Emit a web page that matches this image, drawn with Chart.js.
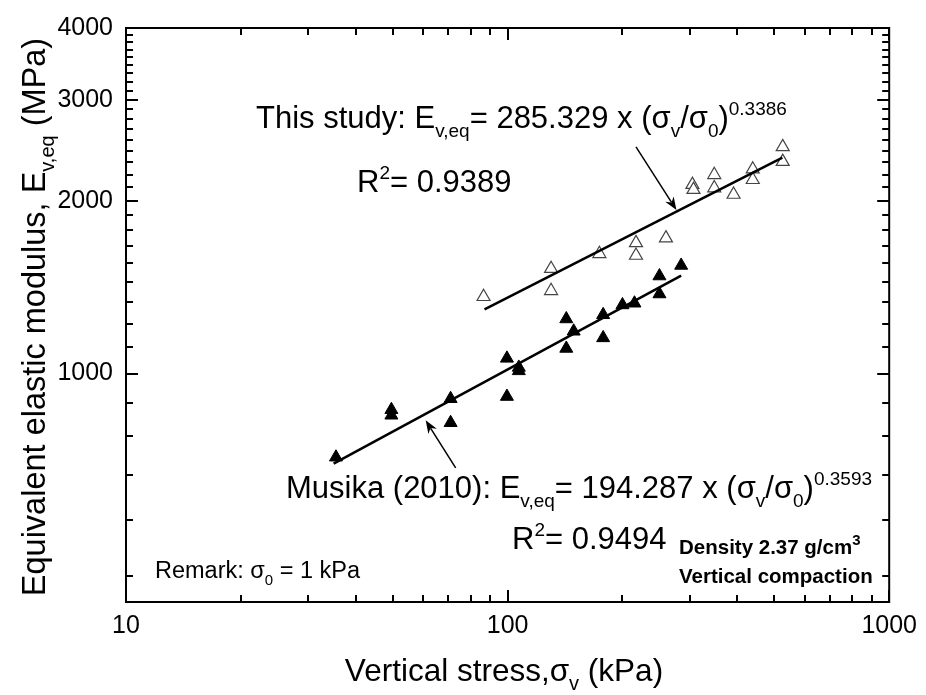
<!DOCTYPE html>
<html>
<head>
<meta charset="utf-8">
<script src="https://cdn.jsdelivr.net/npm/chart.js@4/dist/chart.umd.min.js"></script>
<style>
  body { margin: 0; background: #fff; }
</style>
</head>
<body>
<canvas id="chart" width="926" height="695"></canvas>
<script>
const thisStudyX = [86.5, 130, 130, 174, 217, 217, 260, 305, 307, 348, 348, 391, 439, 439, 526, 526];
const thisStudyY = [1361, 1523, 1394, 1617, 1689, 1606, 1722, 2134, 2092, 2220, 2105, 2051, 2270, 2176, 2483, 2340];
const musikaX = [35.5, 49.6, 49.6, 70.9, 70.9, 99.6, 99.6, 107, 107, 142.5, 149, 142.5, 178, 178, 200, 215, 250, 250, 285];
const musikaY = [715, 865, 846, 904, 821, 1063, 912, 1025, 1011, 1245, 1185, 1106, 1266, 1154, 1317, 1326, 1479, 1376, 1543];

// fitted power lines (end points)
const thisFitX = [87, 525];
const thisFitY = [1294, 2378];
const musikaFitX = [35, 285];
const musikaFitY = [697, 1481];

// arrows pointing at the fit lines: [from, to]
const thisArrow = [[217, 2483], [277, 1927]];
const musikaArrow = [[73.1, 685], [61, 829]];

const xMajorTicks = [10, 100, 1000];
const xMinorTicks = [20, 30, 40, 50, 60, 70, 80, 90, 200, 300, 400, 500, 600, 700, 800, 900];
const yMajorTicks = [1000, 2000, 3000, 4000];
const yMinorStep = 1000 / 9;

const FONT = '"Liberation Sans", Arial, Helvetica, sans-serif';

const toPoints = (xs, ys) => xs.map((x, i) => ({ x: x, y: ys[i] }));

function yMinorTicks() {
    const out = [];
    for (let v = 4000 - yMinorStep; v > 400; v -= yMinorStep) {
        if (!yMajorTicks.some(m => Math.abs(m - v) < 1)) out.push(v);
    }
    return out;
}

// draw text made of parts: {t, s} where s is 'sub' / 'sup' / undefined
function drawRich(ctx, parts, x, y, size, weight, align) {
    const small = (p) => Math.round(size * (p.k || 0.62));
    const measure = () => parts.reduce((w, p) => {
        ctx.font = `${weight} ${p.s ? small(p) : size}px ${FONT}`;
        return w + ctx.measureText(p.t).width;
    }, 0);
    let cx = x;
    if (align === 'center') cx = x - measure() / 2;
    parts.forEach(p => {
        ctx.font = `${weight} ${p.s ? small(p) : size}px ${FONT}`;
        let dy = 0;
        if (p.s === 'sub') dy = size * 0.28;
        if (p.s === 'sup') dy = -size * 0.42;
        ctx.fillText(p.t, cx, y + dy);
        cx += ctx.measureText(p.t).width;
    });
}

const decorations = {
    id: 'decorations',
    afterDraw(chart) {
        const { ctx, chartArea: a, scales: { x, y } } = chart;
        ctx.save();
        ctx.strokeStyle = '#000';
        ctx.fillStyle = '#000';
        ctx.lineCap = 'butt';

        // inward ticks on four sides
        ctx.lineWidth = 2;
        const seg = (x1, y1, x2, y2) => { ctx.beginPath(); ctx.moveTo(x1, y1); ctx.lineTo(x2, y2); ctx.stroke(); };
        xMajorTicks.concat(xMinorTicks).forEach(v => {
            const px = Math.round(x.getPixelForValue(v));
            const len = xMajorTicks.includes(v) ? 12 : 7;
            seg(px, a.bottom, px, a.bottom - len);
            seg(px, a.top, px, a.top + len);
        });
        yMajorTicks.concat(yMinorTicks()).forEach(v => {
            const py = Math.round(y.getPixelForValue(v));
            const len = yMajorTicks.includes(v) ? 12 : 7;
            seg(a.left, py, a.left + len, py);
            seg(a.right, py, a.right - len, py);
        });

        // frame
        ctx.lineWidth = 2;
        ctx.strokeRect(a.left, a.top, a.right - a.left, a.bottom - a.top);

        // arrows
        const arrow = (pts) => {
            const x1 = x.getPixelForValue(pts[0][0]), y1 = y.getPixelForValue(pts[0][1]);
            const x2 = x.getPixelForValue(pts[1][0]), y2 = y.getPixelForValue(pts[1][1]);
            const ang = Math.atan2(y2 - y1, x2 - x1);
            const hl = 13, hw = 5;
            ctx.lineWidth = 1.5;
            seg(x1, y1, x2 - Math.cos(ang) * hl * 0.7, y2 - Math.sin(ang) * hl * 0.7);
            ctx.beginPath();
            ctx.moveTo(x2, y2);
            ctx.lineTo(x2 - Math.cos(ang) * hl - Math.sin(ang) * hw, y2 - Math.sin(ang) * hl + Math.cos(ang) * hw);
            ctx.lineTo(x2 - Math.cos(ang) * hl * 0.7, y2 - Math.sin(ang) * hl * 0.7);
            ctx.lineTo(x2 - Math.cos(ang) * hl + Math.sin(ang) * hw, y2 - Math.sin(ang) * hl - Math.cos(ang) * hw);
            ctx.closePath();
            ctx.fill();
        };
        arrow(thisArrow);
        arrow(musikaArrow);

        // annotations
        ctx.textBaseline = 'alphabetic';
        ctx.textAlign = 'left';
        drawRich(ctx, [
            { t: 'This study: E' }, { t: 'v,eq', s: 'sub' }, { t: '= 285.329 x (σ' }, { t: 'v', s: 'sub' },
            { t: '/σ' }, { t: '0', s: 'sub' }, { t: ')' }, { t: '0.3386', s: 'sup' }
        ], 256, 128, 31, 'normal');
        drawRich(ctx, [{ t: 'R' }, { t: '2', s: 'sup' }, { t: '= 0.9389' }], 357, 192, 31, 'normal');
        drawRich(ctx, [
            { t: 'Musika (2010): E' }, { t: 'v,eq', s: 'sub' }, { t: '= 194.287 x (σ' }, { t: 'v', s: 'sub' },
            { t: '/σ' }, { t: '0', s: 'sub' }, { t: ')' }, { t: '0.3593', s: 'sup' }
        ], 286, 498, 31, 'normal');
        drawRich(ctx, [{ t: 'R' }, { t: '2', s: 'sup' }, { t: '= 0.9494' }], 512, 549, 31, 'normal');
        drawRich(ctx, [{ t: 'Density 2.37 g/cm' }, { t: '3', s: 'sup', k: 0.72 }], 679, 554, 20.5, 'bold');
        drawRich(ctx, [{ t: 'Vertical compaction' }], 679, 583, 20.5, 'bold');
        drawRich(ctx, [{ t: 'Remark: σ' }, { t: '0', s: 'sub' }, { t: ' = 1 kPa' }], 155, 578, 23.5, 'normal');

        // axis titles
        drawRich(ctx, [{ t: 'Vertical stress,σ' }, { t: 'v', s: 'sub' }, { t: ' (kPa)' }],
            504, 681, 31.5, 'normal', 'center');
        ctx.translate(45, (a.top + a.bottom) / 2 + 2);
        ctx.rotate(-Math.PI / 2);
        drawRich(ctx, [{ t: 'Equivalent elastic modulus, E' }, { t: 'v,eq', s: 'sub' }, { t: ' (MPa)' }],
            0, 0, 32.5, 'normal', 'center');
        ctx.restore();
    }
};

new Chart(document.getElementById('chart'), {
    type: 'scatter',
    data: {
        datasets: [
            {
                label: 'This study fit',
                data: toPoints(thisFitX, thisFitY),
                showLine: true,
                borderColor: '#000',
                borderWidth: 2.5,
                pointRadius: 0
            },
            {
                label: 'Musika fit',
                data: toPoints(musikaFitX, musikaFitY),
                showLine: true,
                borderColor: '#000',
                borderWidth: 2.5,
                pointRadius: 0
            },
            {
                label: 'This study',
                data: toPoints(thisStudyX, thisStudyY),
                pointStyle: 'triangle',
                pointRadius: 7.5,
                backgroundColor: '#fff',
                borderColor: '#444',
                borderWidth: 1.2
            },
            {
                label: 'Musika (2010)',
                data: toPoints(musikaX, musikaY),
                pointStyle: 'triangle',
                pointRadius: 7.5,
                backgroundColor: '#000',
                borderColor: '#000',
                borderWidth: 1
            }
        ]
    },
    options: {
        responsive: false,
        animation: false,
        devicePixelRatio: 1,
        layout: { padding: { top: 19, right: 36, left: 0, bottom: 0 } },
        plugins: { legend: { display: false }, tooltip: { enabled: false } },
        scales: {
            x: {
                type: 'logarithmic',
                min: 10,
                max: 1000,
                grid: { display: false, drawTicks: false },
                border: { display: false },
                afterBuildTicks: (scale) => { scale.ticks = xMajorTicks.map(v => ({ value: v })); },
                afterFit: (scale) => { scale.height = 93; },
                ticks: {
                    autoSkip: false,
                    maxRotation: 0,
                    padding: 9,
                    color: '#000',
                    font: { family: FONT, size: 25 },
                    callback: (v) => String(v)
                }
            },
            y: {
                type: 'logarithmic',
                min: 400,
                max: 4000,
                grid: { display: false, drawTicks: false },
                border: { display: false },
                afterBuildTicks: (scale) => { scale.ticks = yMajorTicks.map(v => ({ value: v })); },
                afterFit: (scale) => { scale.width = 126; },
                ticks: {
                    autoSkip: false,
                    padding: 13,
                    color: '#000',
                    font: { family: FONT, size: 25 },
                    callback: (v) => String(v)
                }
            }
        }
    },
    plugins: [decorations]
});
</script>
</body>
</html>
